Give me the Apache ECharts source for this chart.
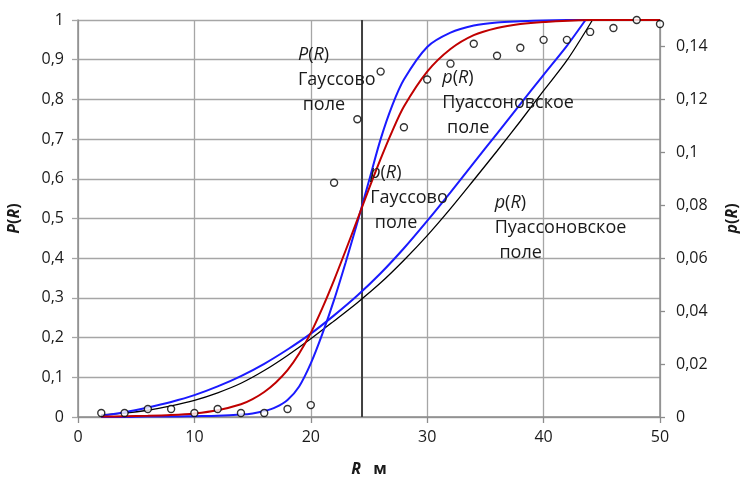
<!DOCTYPE html>
<html>
<head>
<meta charset="utf-8">
<script src="https://cdn.jsdelivr.net/npm/echarts@6/dist/echarts.min.js"></script>
<style>
  html, body { margin: 0; padding: 0; background: #fff; }
  #chart { width: 740px; height: 477px; }
</style>
</head>
<body>
<div id="chart"></div>
<script>
// observed points (R, P)
const pointR = [2, 4, 6, 8, 10, 12, 14, 16, 18, 20, 22, 24, 26, 28, 30, 32, 34, 36, 38, 40, 42, 44, 46, 48, 50];
const pointP = [0.01, 0.01, 0.02, 0.02, 0.01, 0.02, 0.01, 0.01, 0.02, 0.03, 0.59, 0.75, 0.87, 0.73, 0.85, 0.89, 0.94, 0.91, 0.93, 0.95, 0.95, 0.97, 0.98, 1, 0.99];

// gaussian curves
const gaussR = [2, 4, 6, 8, 10, 12, 14, 15, 16, 17, 18, 19, 20, 21, 22, 23, 24, 25, 26, 27, 28, 30, 32, 34, 36, 38, 40, 44, 50];
const gaussRed = [0.001, 0.002, 0.003, 0.005, 0.009, 0.017, 0.032, 0.045, 0.063, 0.087, 0.118, 0.16, 0.212, 0.275, 0.345, 0.42, 0.497, 0.575, 0.65, 0.72, 0.782, 0.87, 0.927, 0.962, 0.98, 0.99, 0.995, 1, 1];
const gaussBlue = [0, 0, 0.001, 0.001, 0.002, 0.003, 0.006, 0.009, 0.015, 0.025, 0.043, 0.077, 0.135, 0.21, 0.295, 0.39, 0.49, 0.595, 0.7, 0.785, 0.85, 0.932, 0.968, 0.986, 0.994, 0.997, 0.999, 1, 1];

// poisson curves (flat part at 1 lies under the red curve)
const poisBlueR = [2, 4, 6, 8, 10, 12, 14, 16, 18, 20, 22, 24, 26, 28, 30, 32, 34, 36, 38, 40, 42, 43.6];
const poisBlue = [0.003, 0.012, 0.024, 0.038, 0.055, 0.077, 0.103, 0.134, 0.17, 0.21, 0.256, 0.306, 0.362, 0.425, 0.494, 0.566, 0.64, 0.714, 0.788, 0.862, 0.935, 1];
const poisBlackR = [2, 4, 6, 8, 10, 12, 14, 16, 18, 20, 22, 24, 26, 28, 30, 32, 34, 36, 38, 40, 42, 44.2];
const poisBlack = [0.006, 0.01, 0.017, 0.028, 0.042, 0.061, 0.085, 0.117, 0.155, 0.197, 0.242, 0.288, 0.338, 0.395, 0.457, 0.525, 0.597, 0.67, 0.745, 0.822, 0.898, 1];

const markerR = 24.4;
const rightTicks = [0, 0.02, 0.04, 0.06, 0.08, 0.1, 0.12, 0.14];

// annotation blocks: anchor [R, P], lines
const notes = [
  { at: [18.9, 0.912], sym: "P", lines: ["Гауссово", " поле"] },
  { at: [25.1, 0.615], sym: "p", lines: ["Гауссово", " поле"] },
  { at: [31.3, 0.854], sym: "p", lines: ["Пуассоновское", " поле"] },
  { at: [35.8, 0.539], sym: "p", lines: ["Пуассоновское", " поле"] },
];

const FONT = "'Open Sans', 'DejaVu Sans', sans-serif";
const comma = (v) => String(+(+v).toFixed(2)).replace(".", ",");
const pairs = (xs, ys) => xs.map((x, i) => [x, ys[i]]);

const chart = echarts.init(document.getElementById("chart"), null, { renderer: "canvas" });

const gridLine = { show: true, lineStyle: { color: "#a6a6a6", width: 1.3 } };
const axisLine = { show: true, lineStyle: { color: "#8c8c8c", width: 1.5 } };
const label = { color: "#1a1a1a", fontSize: 16, fontFamily: FONT };
const nameRich = {
  i: { fontStyle: "italic", fontWeight: "bold", fontSize: 16, fontFamily: FONT, color: "#1a1a1a" },
  n: { fontWeight: "bold", fontSize: 16, fontFamily: FONT, color: "#1a1a1a" },
};

const curve = (data, color, width, z) => ({
  type: "line",
  data,
  smooth: 0.3,
  showSymbol: false,
  lineStyle: { color, width },
  z,
  silent: true,
});

chart.setOption({
  animation: false,
  grid: { left: 78, right: 80, top: 20, bottom: 60, outerBoundsMode: "none", containLabel: false },
  xAxis: {
    type: "value",
    min: 0,
    max: 50,
    interval: 10,
    axisLine,
    axisTick: { show: true, length: 6, lineStyle: { color: "#8c8c8c", width: 1.3 } },
    axisLabel: { ...label, margin: 12 },
    splitLine: gridLine,
    name: "{i|R}{n|   м}",
    nameLocation: "middle",
    nameGap: 44,
    nameTextStyle: { rich: nameRich },
  },
  yAxis: [
    {
      type: "value",
      min: 0,
      max: 1,
      interval: 0.1,
      axisLine,
      axisTick: { show: true, length: 6, lineStyle: { color: "#a6a6a6", width: 1.3 } },
      axisLabel: { ...label, margin: 14, formatter: comma },
      splitLine: gridLine,
      name: "{i|P}{n|(}{i|R}{n|)}",
      nameLocation: "middle",
      nameRotate: 90,
      nameGap: 56,
      nameTextStyle: { rich: nameRich },
    },
    {
      type: "value",
      min: 0,
      max: 0.15,
      interval: 0.02,
      position: "right",
      axisLine,
      axisTick: { show: true, length: 5, customValues: rightTicks, lineStyle: { color: "#8c8c8c", width: 1.3 } },
      axisLabel: { ...label, margin: 16, formatter: comma, customValues: rightTicks },
      splitLine: { show: false },
      name: "{i|p}{n|(}{i|R}{n|)}",
      nameLocation: "middle",
      nameRotate: 90,
      nameGap: 64,
      nameTextStyle: { rich: nameRich },
    },
  ],
  series: [
    {
      type: "line",
      data: [[markerR, 0], [markerR, 1]],
      showSymbol: false,
      lineStyle: { color: "#404040", width: 2 },
      z: 2,
      silent: true,
    },
    curve(pairs(poisBlackR, poisBlack), "#000000", 1.3, 3),
    curve(pairs(poisBlueR, poisBlue), "#1a1aff", 2, 4),
    curve(pairs(gaussR, gaussBlue), "#1a1aff", 2, 5),
    curve(pairs(gaussR, gaussRed), "#c00000", 2, 6),
    {
      type: "scatter",
      data: pairs(pointR, pointP),
      symbol: "circle",
      symbolSize: 7,
      clip: false,
      itemStyle: { color: "#ffffff", borderColor: "#000000", borderWidth: 1.4 },
      z: 7,
      silent: true,
    },
  ],
});

// annotations placed at data coordinates
const SIZE = 18;
const textStyle = (text, x, y, rich) => ({
  type: "text",
  x,
  y,
  z: 10,
  style: {
    text,
    fill: "#1a1a1a",
    fontSize: SIZE,
    fontFamily: FONT,
    verticalAlign: "middle",
    rich,
  },
});

const graphics = [];
notes.forEach((note) => {
  const [px, py] = chart.convertToPixel({ xAxisIndex: 0, yAxisIndex: 0 }, note.at);
  const rich = {
    i: { fontStyle: "italic", fontSize: SIZE, fontFamily: FONT, fill: "#1a1a1a" },
    n: { fontSize: SIZE, fontFamily: FONT, fill: "#1a1a1a" },
  };
  graphics.push(textStyle(`{i|${note.sym}}{n|(}{i|R}{n|)}`, px, py, rich));
  note.lines.forEach((line, k) => {
    graphics.push(textStyle(line, px, py + 25 * (k + 1)));
  });
});
chart.setOption({ graphic: graphics });
</script>
</body>
</html>
